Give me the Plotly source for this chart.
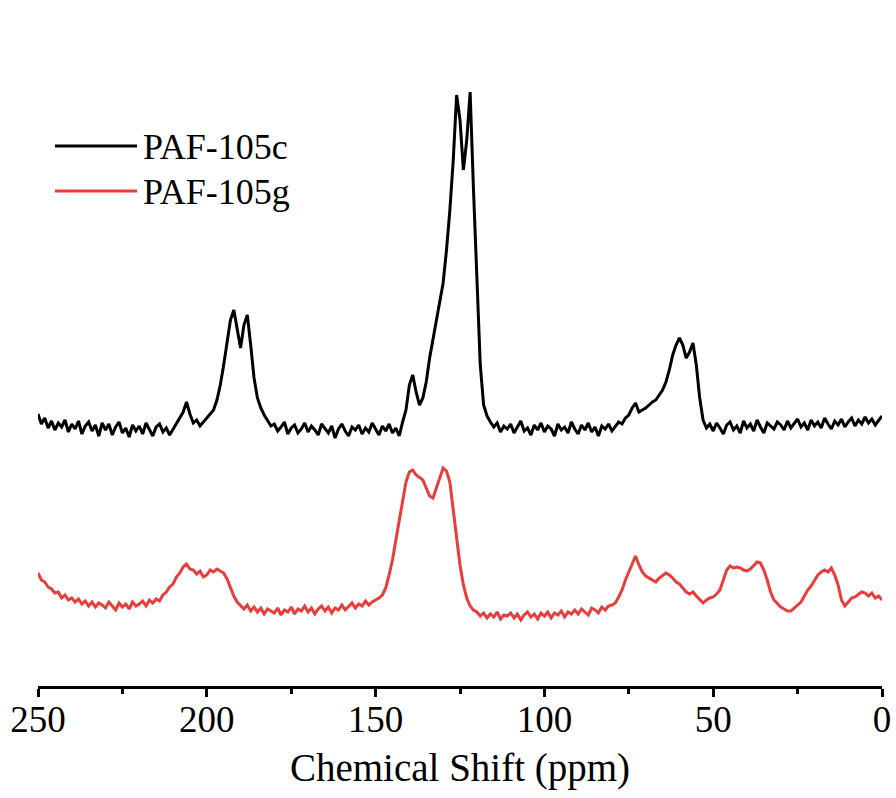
import plotly.graph_objects as go

# Chemical shift axis (ppm), 250 -> 0 in 1 ppm steps
ppm = list(range(250, -1, -1))

# PAF-105c intensities (arbitrary units)
paf_c = [
    272, 262, 268, 258, 265, 256, 263, 259, 266, 254,
    262, 257, 265, 252, 260, 264, 255, 261, 250, 263,
    256, 262, 251, 259, 264, 253, 258, 249, 261, 255,
    260, 252, 263, 257, 250, 259, 262, 254, 258, 251,
    257, 262, 268, 274, 284, 272, 263, 266, 260, 264,
    268, 271, 276, 286, 301, 321, 346, 366, 376, 356,
    338, 361, 371, 341, 308, 288, 278, 271, 266, 260,
    262, 255, 259, 264, 252, 258, 261, 253, 257, 263,
    254, 260, 256, 251, 262, 258, 253, 260, 248, 257,
    262, 255, 250, 259, 256, 261, 252, 258, 254, 263,
    257, 251, 260, 255, 262, 253, 258, 250, 264, 276,
    301, 311, 294, 281, 288, 304, 328, 346, 364, 381,
    403, 436, 476, 526, 591, 566, 516, 546, 594, 496,
    401, 321, 281, 270, 264, 259, 263, 254, 260, 257,
    262, 253, 259, 265, 255, 258, 251, 261, 256, 263,
    254, 260, 257, 250, 262, 256, 259, 253, 264, 257,
    252, 261, 256, 263, 254, 259, 250, 260, 257, 262,
    255, 260, 264, 262, 268, 271, 278, 283, 274, 276,
    278, 281, 284, 286, 291, 296, 304, 316, 331, 341,
    348, 341, 328, 334, 343, 321, 288, 266, 258, 262,
    255, 263, 258, 252, 261, 264, 256, 260, 253, 265,
    258, 262, 255, 266, 259, 253, 263, 260, 257, 264,
    261, 256, 265, 258, 262, 267, 259, 263, 256, 266,
    260, 264, 258, 268, 262, 257, 265, 261, 267, 259,
    264, 268, 260, 266, 262, 269, 263, 267, 261, 265,
    270,
]

# PAF-105g intensities (arbitrary units)
paf_g = [
    113, 106, 104, 99, 97, 93, 94, 88, 91, 86,
    88, 84, 87, 82, 85, 80, 84, 79, 83, 81,
    78, 84, 80, 76, 83, 79, 82, 77, 84, 80,
    82, 85, 80, 86, 83, 87, 85, 91, 94, 99,
    102, 109, 113, 119, 122, 117, 116, 112, 115, 109,
    111, 116, 114, 117, 115, 113, 107, 99, 90, 84,
    80, 77, 81, 75, 79, 74, 78, 72, 77, 75,
    73, 78, 71, 76, 74, 79, 72, 77, 75, 80,
    74, 78, 72, 77, 80, 75, 79, 73, 78, 76,
    81, 76, 79, 83, 78, 82, 80, 85, 81, 84,
    86, 88, 91, 98, 111, 126, 146, 166, 186, 204,
    214, 216, 211, 208, 206, 198, 190, 188, 198, 210,
    218, 215, 204, 176, 146, 121, 101, 88, 80, 76,
    74, 70, 73, 68, 72, 69, 74, 67, 71, 70,
    73, 68, 72, 66, 71, 74, 69, 72, 67, 73,
    70, 74, 68, 73, 71, 75, 69, 74, 72, 76,
    72, 77, 74, 71, 78, 76, 73, 79, 76, 80,
    81, 83, 89, 96, 106, 114, 121, 130, 121, 114,
    110, 108, 106, 104, 108, 111, 113, 111, 108, 104,
    102, 98, 94, 92, 94, 90, 86, 83, 86, 88,
    89, 92, 96, 106, 116, 120, 118, 119, 118, 116,
    115, 117, 120, 124, 123, 116, 106, 94, 86, 82,
    79, 77, 75, 75, 78, 81, 84, 90, 96, 100,
    106, 111, 114, 116, 114, 118, 111, 101, 86, 80,
    84, 88, 89, 92, 94, 93, 90, 93, 88, 90,
    86,
]

series_names = ["PAF-105c", "PAF-105g"]
colors = ["#000000", "#E93C3C"]
tick_vals = [250, 200, 150, 100, 50, 0]

FONT = "Liberation Serif, Times New Roman, serif"

fig = go.Figure()
for name, vals, col in zip(series_names, [paf_c, paf_g], colors):
    fig.add_trace(go.Scatter(x=ppm, y=vals, mode="lines", name=name,
                             line=dict(color=col, width=3), showlegend=False))

# manual legend (paper coords)
def px_x(px):
    return (px - 38) / 844.0

def px_y(py):
    return (686 - py) / 686.0

for i, (name, col) in enumerate(zip(series_names, colors)):
    ly = [146, 191][i]
    fig.add_shape(type="line", xref="paper", yref="paper",
                  x0=px_x(55), x1=px_x(137), y0=px_y(ly), y1=px_y(ly),
                  line=dict(color=col, width=3))
    fig.add_annotation(xref="paper", yref="paper", x=px_x(141), y=px_y(ly + 1),
                       text=name, showarrow=False, xanchor="left", yanchor="middle",
                       font=dict(family=FONT, size=36, color="black"))

fig.update_layout(
    width=896, height=798,
    margin=dict(l=38, r=14, t=0, b=112),
    paper_bgcolor="white", plot_bgcolor="white",
    font=dict(family=FONT, color="black"),
    xaxis=dict(range=[250, 0], tickvals=tick_vals,
               ticktext=[str(v) for v in tick_vals],
               showline=True, linecolor="black", linewidth=2.5,
               ticks="outside", ticklen=8, tickwidth=2.5, tickcolor="black",
               ticklabelstandoff=-9,
               minor=dict(dtick=25, ticks="outside", ticklen=5, tickwidth=2.5, tickcolor="black"),
               showgrid=False, zeroline=False,
               tickfont=dict(family=FONT, size=37, color="black"),
               title=dict(text="Chemical Shift (ppm)", standoff=15,
                          font=dict(family=FONT, size=39, color="black"))),
    yaxis=dict(range=[0, 686], visible=False, showgrid=False, zeroline=False),
)

fig.write_html("out.html")
